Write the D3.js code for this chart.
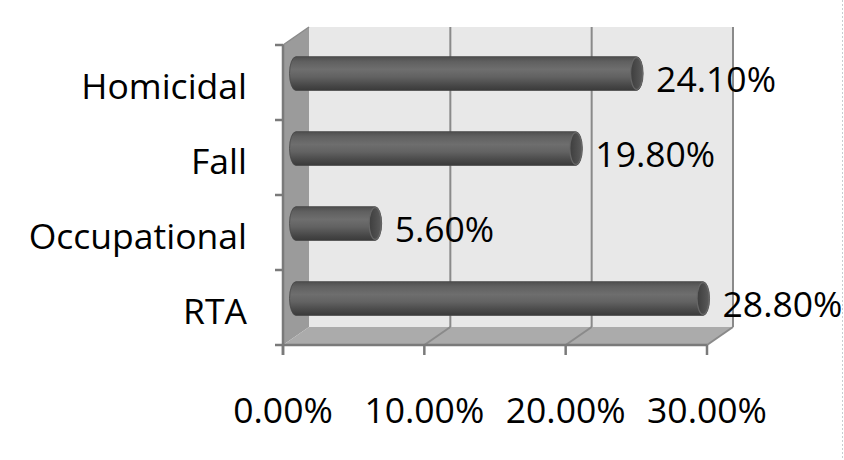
<!DOCTYPE html>
<html><head><meta charset="utf-8">
<script src="https://cdn.jsdelivr.net/npm/d3@7"></script>
<style>
html,body{margin:0;padding:0;background:#fff;}
svg{display:block;}
text{font-family:"Open Sans","Noto Sans",sans-serif;fill:#000;}
</style></head>
<body>
<svg id="chart" width="844" height="460"></svg>
<script>
const categories = ["Homicidal", "Fall", "Occupational", "RTA"];
const values = [0.241, 0.198, 0.056, 0.288];
const valueLabels = ["24.10%", "19.80%", "5.60%", "28.80%"];
const xTicks = [0, 0.10, 0.20, 0.30];
const xTickLabels = ["0.00%", "10.00%", "20.00%", "30.00%"];

(function(){
const svg = d3.select("#chart");
const W = 844, H = 460;
const pL = 283, pR = 707, pT = 45, pB = 345;
const dx = 26, dy = -18; // depth offset
const x = d3.scaleLinear().domain([0, 0.30]).range([pL, pR]);
const y = d3.scaleBand().domain(categories).range([pT, pB]);
const fs = 35.5;

const defs = svg.append("defs");
const g1 = defs.append("linearGradient").attr("id","cyl").attr("x1",0).attr("y1",0).attr("x2",0).attr("y2",1);
[[0,"#4e4e4e"],[0.15,"#606060"],[0.38,"#6e6e6e"],[0.6,"#626262"],[0.85,"#484848"],[1,"#3a3a3a"]]
  .forEach(([o,c]) => g1.append("stop").attr("offset",o).attr("stop-color",c));
const g2 = defs.append("linearGradient").attr("id","cap").attr("x1",0).attr("y1",0).attr("x2",1).attr("y2",0);
[[0,"#3e3e3e"],[0.6,"#4e4e4e"],[1,"#5a5a5a"]]
  .forEach(([o,c]) => g2.append("stop").attr("offset",o).attr("stop-color",c));

// back wall
svg.append("rect").attr("x", pL+dx).attr("y", pT+dy).attr("width", pR-pL).attr("height", pB-pT)
  .attr("fill","#e8e8e8");
// side wall
svg.append("polygon").attr("points", [[pL,pT],[pL+dx,pT+dy],[pL+dx,pB+dy],[pL,pB]].join(" "))
  .attr("fill","#9b9b9b");
// floor
svg.append("polygon").attr("points", [[pL,pB],[pR,pB],[pR+dx,pB+dy],[pL+dx,pB+dy]].join(" "))
  .attr("fill","#ababab");

// gridlines on back wall and floor
xTicks.forEach(t => {
  if (t > 0) {
    svg.append("line").attr("x1", x(t)+dx).attr("x2", x(t)+dx).attr("y1", pT+dy).attr("y2", pB+dy)
      .attr("stroke","#8a8a8a").attr("stroke-width",2);
    svg.append("line").attr("x1", x(t)+dx).attr("x2", x(t)).attr("y1", pB+dy).attr("y2", pB)
      .attr("stroke","#8a8a8a").attr("stroke-width",2);
  }
});
// top edge of side wall
svg.append("line").attr("x1",pL).attr("y1",pT).attr("x2",pL+dx).attr("y2",pT+dy)
  .attr("stroke","#8a8a8a").attr("stroke-width",1.5);

// axes
const axisColor = "#7a7a7a";
svg.append("line").attr("x1",pL).attr("x2",pL).attr("y1",pT).attr("y2",pB+10)
  .attr("stroke",axisColor).attr("stroke-width",2.5);
svg.append("line").attr("x1",pL).attr("x2",pR).attr("y1",pB).attr("y2",pB)
  .attr("stroke",axisColor).attr("stroke-width",2.5);
const bounds = categories.map(c => y(c)).concat([pB]);
bounds.forEach(b => svg.append("line").attr("x1",pL-8).attr("x2",pL).attr("y1",b).attr("y2",b)
  .attr("stroke",axisColor).attr("stroke-width",2.5));
xTicks.forEach(t => svg.append("line").attr("x1",x(t)).attr("x2",x(t)).attr("y1",pB).attr("y2",pB+10)
  .attr("stroke",axisColor).attr("stroke-width",2.5));

// bars (cylinders) at mid depth
const bh = y.bandwidth()*0.45, rx = 6.5;
categories.forEach((c,i) => {
  const cy = y(c) + y.bandwidth()/2 + dy/2;
  const x0 = x(0) + dx/2, x1 = x(values[i]) + dx/2;
  const t = cy - bh/2, b = cy + bh/2;
  const path = `M${x0},${t} L${x1},${t} A${rx},${bh/2} 0 0 1 ${x1},${b} L${x0},${b} A${rx},${bh/2} 0 0 1 ${x0},${t} Z`;
  svg.append("path").attr("d", path).attr("fill","url(#cyl)").attr("stroke","#454545").attr("stroke-width",0.8);
  svg.append("ellipse").attr("cx", x1).attr("cy", cy).attr("rx", rx-0.5).attr("ry", bh/2-1)
    .attr("fill","url(#cap)").attr("stroke","#666").attr("stroke-width",1.2);
  svg.append("text").attr("x", x1 + rx + 13).attr("y", cy + 18)
    .attr("font-size", fs).text(valueLabels[i]);
  svg.append("text").attr("x", 247).attr("y", y(c) + y.bandwidth()/2 + 16)
    .attr("text-anchor","end").attr("font-size", fs).text(c);
});

// x tick labels
xTicks.forEach((t,i) => svg.append("text").attr("x", x(t)).attr("y", 423)
  .attr("text-anchor","middle").attr("font-size", fs).text(xTickLabels[i]));

// faint dotted border on right
svg.append("line").attr("x1",842.5).attr("x2",842.5).attr("y1",0).attr("y2",H)
  .attr("stroke","#c8cdd0").attr("stroke-width",1).attr("stroke-dasharray","2,2");
})();
</script>
</body></html>
